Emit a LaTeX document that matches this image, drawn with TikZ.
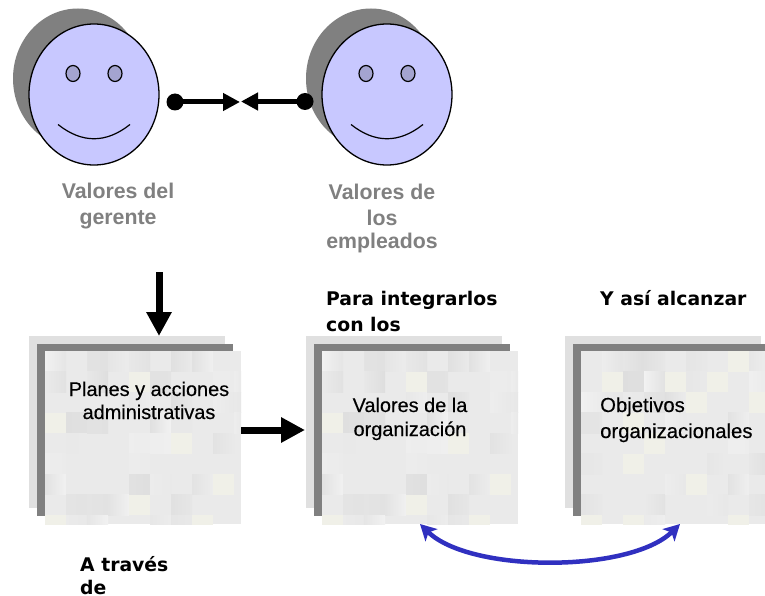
\documentclass[tikz,border=0pt]{standalone}
\usepackage{fontspec}
\setmainfont{Liberation Sans}
\newfontfamily\verd{DejaVu Sans}
\newfontfamily\semi[FakeBold=0.35]{Liberation Sans}
\usetikzlibrary{arrows.meta}
\definecolor{faceblue}{HTML}{C8C8FF}
\definecolor{eyeblue}{HTML}{A4A4D0}
\definecolor{shadowgray}{HTML}{808080}
\definecolor{backgray}{HTML}{E0E0E0}
\definecolor{tilebase}{HTML}{EAEAEA}
\definecolor{tilecream}{HTML}{F0F0E8}
\definecolor{arcblue}{HTML}{3030C0}
\tikzset{
  x=1pt,y=-1pt,
  face/.style={draw=black,line width=1.3pt,fill=faceblue},
  shadowdisc/.style={fill=shadowgray,draw=none},
  eye/.style={draw=black,line width=1.2pt,fill=eyeblue},
  smile/.style={draw=black,line width=1.2pt},
  dot/.style={circle,fill=black,draw=none,inner sep=0pt,minimum size=17pt},
  thick arrow/.style={line width=5pt,-{Triangle[length=17pt,width=17pt]}},
  big arrow/.style={line width=7pt,-{Triangle[length=24pt,width=24pt]}},
  greylabel/.style={text=shadowgray,font=\fontsize{21.3}{26}\selectfont\bfseries,align=center,inner sep=0pt,anchor=base},
  boxlabel/.style={text=black,font=\semi\fontsize{19.9}{24}\selectfont,align=center,inner sep=0pt,anchor=base},
  headlabel/.style={text=black,font=\verd\fontsize{18.8}{26}\selectfont\bfseries,align=left,inner sep=0pt,anchor=base west},
  blue arc/.style={draw=arcblue,line width=4.5pt,{Stealth[length=16pt,width=17pt,inset=4pt]}-{Stealth[length=16pt,width=17pt,inset=4pt]}},
}
\newcommand{\smiley}[2]{%
  \fill[shadowdisc] (#1-16,#2-16) ellipse [x radius=65,y radius=70];
  \draw[face] (#1,#2) ellipse [x radius=65,y radius=70.5];
  \draw[eye] (#1-21,#2-21) ellipse [x radius=7,y radius=8];
  \draw[eye] (#1+21,#2-21) ellipse [x radius=7,y radius=8];
  \draw[smile] (#1-36,#2+30) .. controls (#1-12,#2+49) and (#1+12,#2+49) .. (#1+36,#2+30);
}
\newcommand{\stack}[4]{% x, y, seed, name
  \fill[backgray] (#1,#2) rectangle ++(196,172);
  \fill[shadowgray] (#1+8,#2+8) rectangle ++(196,172);
  \node[fill=tilebase,inner sep=0pt,minimum width=196pt,minimum height=173pt,anchor=north west] (#4) at (#1+16,#2+15) {};
  \begin{scope}
    \clip (#1+16,#2+15) rectangle ++(196,173);
    \pgfmathsetseed{#3}
    \foreach \i in {0,...,9}{
      \foreach \j in {0,...,8}{
        \pgfmathsetmacro{\ta}{int(random(0,9))}
        \pgfmathsetmacro{\sa}{87+8*rnd}
        \pgfmathsetmacro{\sb}{87+8*rnd}
        \pgfmathsetmacro{\ang}{int(random(0,1))*90}
        \ifnum\ta=0
          \fill[tilecream] (#1+16+\i*21,#2+15+\j*20.5) rectangle ++(21,20.5);
        \else\ifnum\ta<5
          \shade[shading angle=\ang,left color=white!\sa!black,right color=white!\sb!black]
            (#1+16+\i*21,#2+15+\j*20.5) rectangle ++(21,20.5);
        \fi\fi
      }
    }
  \end{scope}
}
\begin{document}
\begin{tikzpicture}
\useasboundingbox (0,0) rectangle (765,596);
\clip (0,0) rectangle (765,596);
\fill[white] (0,0) rectangle (765,596);

\smiley{94}{94.5}
\smiley{387}{94.5}

\node[dot] (dotL) at (175,102) {};
\node[dot] (dotR) at (305,101.5) {};
\coordinate (tipL) at (240,102);
\coordinate (tipR) at (241,101.5);
\draw[thick arrow] (dotL.center) -- (tipL);
\draw[thick arrow] (dotR.center) -- (tipR);

\node[greylabel] (lblGer) at (118,224) {Valores del\\gerente};
\node[greylabel] (lblEmp) at (382,248) {Valores de\\los\\[-3pt]empleados};

\stack{29}{336}{11}{boxA}
\stack{306}{336}{11}{boxB}
\stack{565}{336}{29}{boxC}

\coordinate (downStart) at (159,272);
\coordinate (downTip) at (159,336);
\draw[big arrow] (downStart) -- (downTip);
\coordinate (rightStart) at (241,430);
\coordinate (rightTip) at (305,430);
\draw[big arrow] (rightStart) -- (rightTip);

\node[boxlabel] (txtA) at (149,419) {Planes y acciones\\[-1pt]administrativas};
\node[boxlabel] (txtB) at (410,436) {Valores de la\\organización};
\node[boxlabel,font=\semi\fontsize{20.3}{24}\selectfont,align=left,anchor=base west] (txtC) at (600,438) {Objetivos\\[2pt]organizacionales};

\node[headlabel] (hdA) at (80,594) {A través\\[-3pt]de};
\node[headlabel] (hdB) at (326,331) {Para integrarlos\\con los};
\node[headlabel] (hdC) at (600,305) {Y así alcanzar};

\coordinate (arcL) at (420,524);
\coordinate (arcR) at (680,524);
\draw[blue arc] (arcL) .. controls (470,573) and (630,573) .. (arcR);
\end{tikzpicture}
\end{document}
